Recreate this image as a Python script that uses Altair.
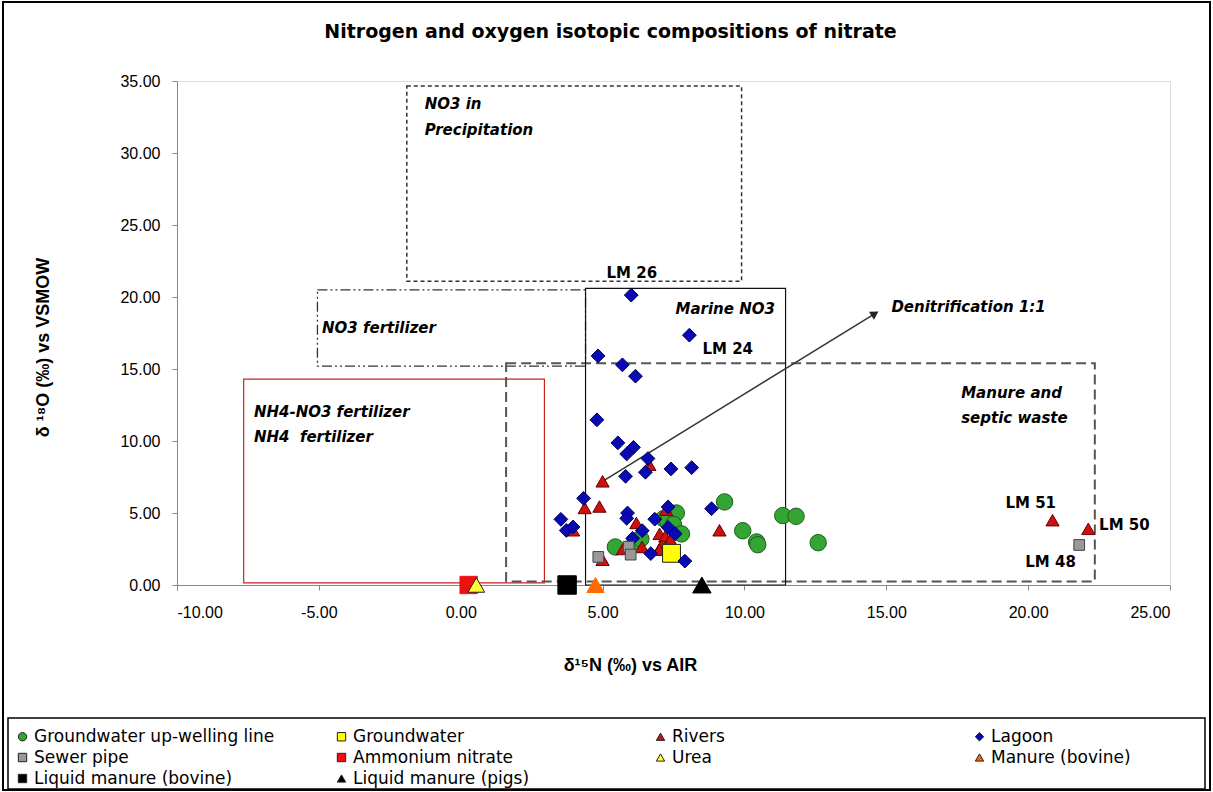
import altair as alt
import pandas as pd

# ---------------- series definitions ----------------
series_names = ["Groundwater up-welling line", "Groundwater", "Rivers", "Lagoon",
                "Sewer pipe", "Ammonium nitrate", "Urea", "Manure (bovine)",
                "Liquid manure (bovine)", "Liquid manure (pigs)"]
series_fill = ["#33A532", "#FFFF00", "#CC1111", "#0A0AB4", "#999999",
               "#EE1111", "#FFFF33", "#FF6A00", "#000000", "#000000"]
series_stroke = ["#1E5E1E", "#222222", "#6A0000", "#00005A", "#444444",
                 "#EE1111", "#222222", "#FF6A00", "#000000", "#000000"]
series_shape = ["circle", "square", "triangle-up", "diamond", "square",
                "square", "triangle-up", "triangle-up", "square", "triangle-up"]
series_size = [270, 320, 175, 190, 115, 300, 280, 300, 340, 340]

# ---------------- values (d15N, d18O) ----------------
upwell_n = [9.30, 9.94, 10.43, 10.47, 11.35, 11.82, 12.60, 5.45, 6.15, 6.35, 7.15, 7.30, 7.60, 7.50, 7.78]
upwell_o = [5.77, 3.77, 2.99, 2.80, 4.82, 4.77, 2.94, 2.64, 3.05, 3.20, 4.60, 4.40, 5.00, 4.20, 3.55]

rivers_n = [5.00, 6.65, 4.37, 4.89, 3.96, 5.00, 6.19, 5.72, 6.39, 7.01, 7.21, 7.39, 7.07, 7.22, 7.00, 7.24, 9.12, 20.86, 22.12]
rivers_o = [7.20, 8.35, 5.35, 5.45, 3.80, 1.75, 4.31, 2.50, 2.64, 3.55, 3.38, 3.15, 2.73, 2.64, 2.45, 5.23, 3.80, 4.50, 3.90]

groundwater_n = [7.43]
groundwater_o = [2.20]

lagoon_n = [6.01, 8.06, 4.84, 5.70, 6.16, 4.80, 5.54, 6.09, 5.85, 6.60, 6.51, 5.81, 7.41, 8.14, 4.33,
            3.53, 3.72, 3.96, 5.88, 5.85, 6.84, 7.31, 7.31, 7.56, 6.40, 6.06, 6.70, 7.90, 8.84]
lagoon_o = [20.13, 17.35, 15.91, 15.29, 14.50, 11.47, 9.87, 9.56, 9.10, 8.78, 7.83, 7.55, 8.06, 8.15, 6.02,
            4.56, 3.79, 4.03, 5.00, 4.63, 4.57, 5.42, 4.00, 3.56, 3.77, 3.24, 2.18, 1.66, 5.30]

sewer_n = [4.85, 5.92, 5.99, 21.80]
sewer_o = [1.95, 2.66, 2.11, 2.78]

ammonium_n = [0.28]
ammonium_o = [0.0]
urea_n = [0.55]
urea_o = [0.0]
manure_bov_n = [4.75]
manure_bov_o = [0.0]
liq_bov_n = [3.75]
liq_bov_o = [0.0]
liq_pigs_n = [8.50]
liq_pigs_o = [0.0]

# source-field boxes: name, x1, x2, y1, y2
box_names = ["precip", "no3fert", "marine", "nh4", "manure"]
box_x1 = [-1.9, -5.05, 4.4, -7.65, 1.6]
box_x2 = [9.9, 4.4, 11.45, 2.95, 22.35]
box_y1 = [21.1, 15.2, 0.0, 0.15, 0.25]
box_y2 = [34.65, 20.5, 20.6, 14.3, 15.4]

# denitrification arrow
arrow_n = [5.0, 14.6]
arrow_o = [7.2, 18.85]

# annotations
italic_text = ["NO3 in", "Precipitation", "NO3 fertilizer", "NH4-NO3 fertilizer", "NH4\u00a0 fertilizer",
               "Marine NO3", "Denitrification 1:1", "Manure and", "septic waste"]
italic_x = [-1.27, -1.27, -4.89, -7.29, -7.29, 7.57, 15.18, 17.64, 17.64]
italic_y = [33.38, 31.57, 17.88, 12.04, 10.31, 19.2, 19.34, 13.36, 11.63]

lm_text = ["LM 26", "LM 24", "LM 51", "LM 50", "LM 48"]
lm_x = [5.14, 8.52, 19.2, 22.5, 19.9]
lm_y = [21.7, 16.42, 5.7, 4.2, 1.6]

# ---------------- tables ----------------
draw_order = [
    ("Groundwater up-welling line", upwell_n, upwell_o),
    ("Rivers", rivers_n, rivers_o),
    ("Groundwater", groundwater_n, groundwater_o),
    ("Lagoon", lagoon_n, lagoon_o),
    ("Sewer pipe", sewer_n, sewer_o),
    ("Ammonium nitrate", ammonium_n, ammonium_o),
    ("Urea", urea_n, urea_o),
    ("Manure (bovine)", manure_bov_n, manure_bov_o),
    ("Liquid manure (bovine)", liq_bov_n, liq_bov_o),
    ("Liquid manure (pigs)", liq_pigs_n, liq_pigs_o),
]
size_of = dict(zip(series_names, series_size))
stroke_of = dict(zip(series_names, series_stroke))
rows = []
for name, xs_, ys_ in draw_order:
    for a, b in zip(xs_, ys_):
        rows.append({"series": name, "x": a, "y": b, "sz": size_of[name], "st": stroke_of[name]})
points = pd.DataFrame(rows)

boxes = pd.DataFrame({"name": box_names, "x": box_x1, "x2": box_x2, "y": box_y1, "y2": box_y2})
arrow = pd.DataFrame({"x": arrow_n, "y": arrow_o, "o": [0, 1]})
arrow_head = arrow.iloc[[1]]
italics = pd.DataFrame({"t": italic_text, "x": italic_x, "y": italic_y})
lms = pd.DataFrame({"t": lm_text, "x": lm_x, "y": lm_y})

FONT = "DejaVu Sans"
xs = alt.Scale(domain=[-10, 25], nice=False, zero=False)
ys = alt.Scale(domain=[0, 35], nice=False, zero=False)
minus_fix = "replace(format(datum.value, '.2f'), '\u2212', '-')"

x_axis = alt.Axis(
    values=list(range(-10, 26, 5)), labelExpr=minus_fix, grid=False, tickSize=5,
    labelPadding=14, labelFontSize=16, title="δ¹⁵N (‰) vs AIR", titleFontSize=18,
    titleFontWeight="bold", titleX=453, titleY=80, titleAlign="center", titleBaseline="middle")
y_axis = alt.Axis(
    values=list(range(0, 36, 5)), labelExpr=minus_fix, grid=False, tickSize=5,
    labelPadding=12, labelFontSize=16, title="δ ¹⁸O (‰) vs VSMOW", titleFontSize=18,
    titleFontWeight="bold", titleX=-134, titleY=266, titleAngle=270, titleAlign="center",
    titleBaseline="middle")


def X(field="x"):
    return alt.X(f"{field}:Q", scale=xs, axis=x_axis)


def Y(field="y"):
    return alt.Y(f"{field}:Q", scale=ys, axis=y_axis)


# boxes
def box_layer(name, color, dash, width):
    b = alt.Chart(boxes).transform_filter(alt.datum.name == name)
    return b.mark_rect(fillOpacity=0, stroke=color, strokeDash=dash, strokeWidth=width).encode(
        x=X(), x2="x2:Q", y=Y(), y2="y2:Q")


precip_box = box_layer("precip", "#333333", [4, 3], 1.5)
fert_box = box_layer("no3fert", "#333333", [10, 3, 2, 3, 2, 3], 1.3)
marine_box = box_layer("marine", "#111111", [1, 0], 1.2)
nh4_box = box_layer("nh4", "#CC2222", [1, 0], 1.2)
manure_box = box_layer("manure", "#555555", [10, 5], 2)

arrow_line = alt.Chart(arrow).mark_line(color="#333333", strokeWidth=1.5).encode(
    x=X(), y=Y(), order="o:Q")
arrow_tip = alt.Chart(arrow_head).mark_point(
    shape="triangle-up", filled=True, color="#222222", size=90, angle=58, opacity=1).encode(x=X(), y=Y())

legend = alt.Legend(
    title=None, orient="none", legendX=-169, legendY=641, columns=4, direction="horizontal",
    columnPadding=58, rowPadding=3, labelFont=FONT, labelFontSize=17, labelColor="black",
    labelLimit=600, symbolSize=70, strokeColor="transparent", padding=6, gridAlign="all",
    labelOffset=3, symbolStrokeWidth=1, symbolStrokeColor="#222222")

pts = alt.Chart(points).mark_point(filled=True, opacity=1, strokeWidth=1).encode(
    x=X(), y=Y(),
    color=alt.Color("series:N", scale=alt.Scale(domain=series_names, range=series_fill), legend=legend),
    shape=alt.Shape("series:N", scale=alt.Scale(domain=series_names, range=series_shape), legend=legend),
    size=alt.Size("sz:Q", scale=None),
    stroke=alt.Stroke("st:N", scale=None),
)

italic_layer = alt.Chart(italics).mark_text(
    align="left", baseline="middle", font=FONT, fontStyle="italic", fontWeight="bold",
    fontSize=15, color="black").encode(x=X(), y=Y(), text="t:N")
lm_layer = alt.Chart(lms).mark_text(
    align="left", baseline="middle", font=FONT, fontWeight="bold",
    fontSize=15, color="black").encode(x=X(), y=Y(), text="t:N")

frame = alt.Chart(pd.DataFrame({"a": [0]})).mark_rect(
    fillOpacity=0, stroke="black", strokeWidth=2).encode(
    x=alt.value(-174), x2=alt.value(1033), y=alt.value(-79), y2=alt.value(709))

legend_box = alt.Chart(pd.DataFrame({"a": [0]})).mark_rect(
    fillOpacity=0, stroke="black", strokeWidth=1.5).encode(
    x=alt.value(-169), x2=alt.value(1028), y=alt.value(637), y2=alt.value(708))

chart = alt.layer(
    precip_box, fert_box, nh4_box, manure_box, marine_box,
    arrow_line, arrow_tip, pts, italic_layer, lm_layer, legend_box, frame
).properties(
    width=993, height=504,
    padding={"left": 177, "top": 81, "right": 43, "bottom": 207},
    autosize=alt.AutoSizeParams(type="none"),
    title=alt.TitleParams(
        text="Nitrogen and oxygen isotopic compositions of nitrate", font=FONT, fontSize=19,
        fontWeight="bold", color="black", anchor="middle", dx=-63, offset=-56,
        baseline="alphabetic", frame="group"),
).configure_view(stroke="#707070", strokeWidth=1).configure_axis(
    labelFont=FONT, titleFont=FONT, labelColor="black", titleColor="black",
    domainColor="#404040", tickColor="#404040"
).configure(background="white")

chart.save("out.html", embed_options={"renderer": "svg", "actions": False})
